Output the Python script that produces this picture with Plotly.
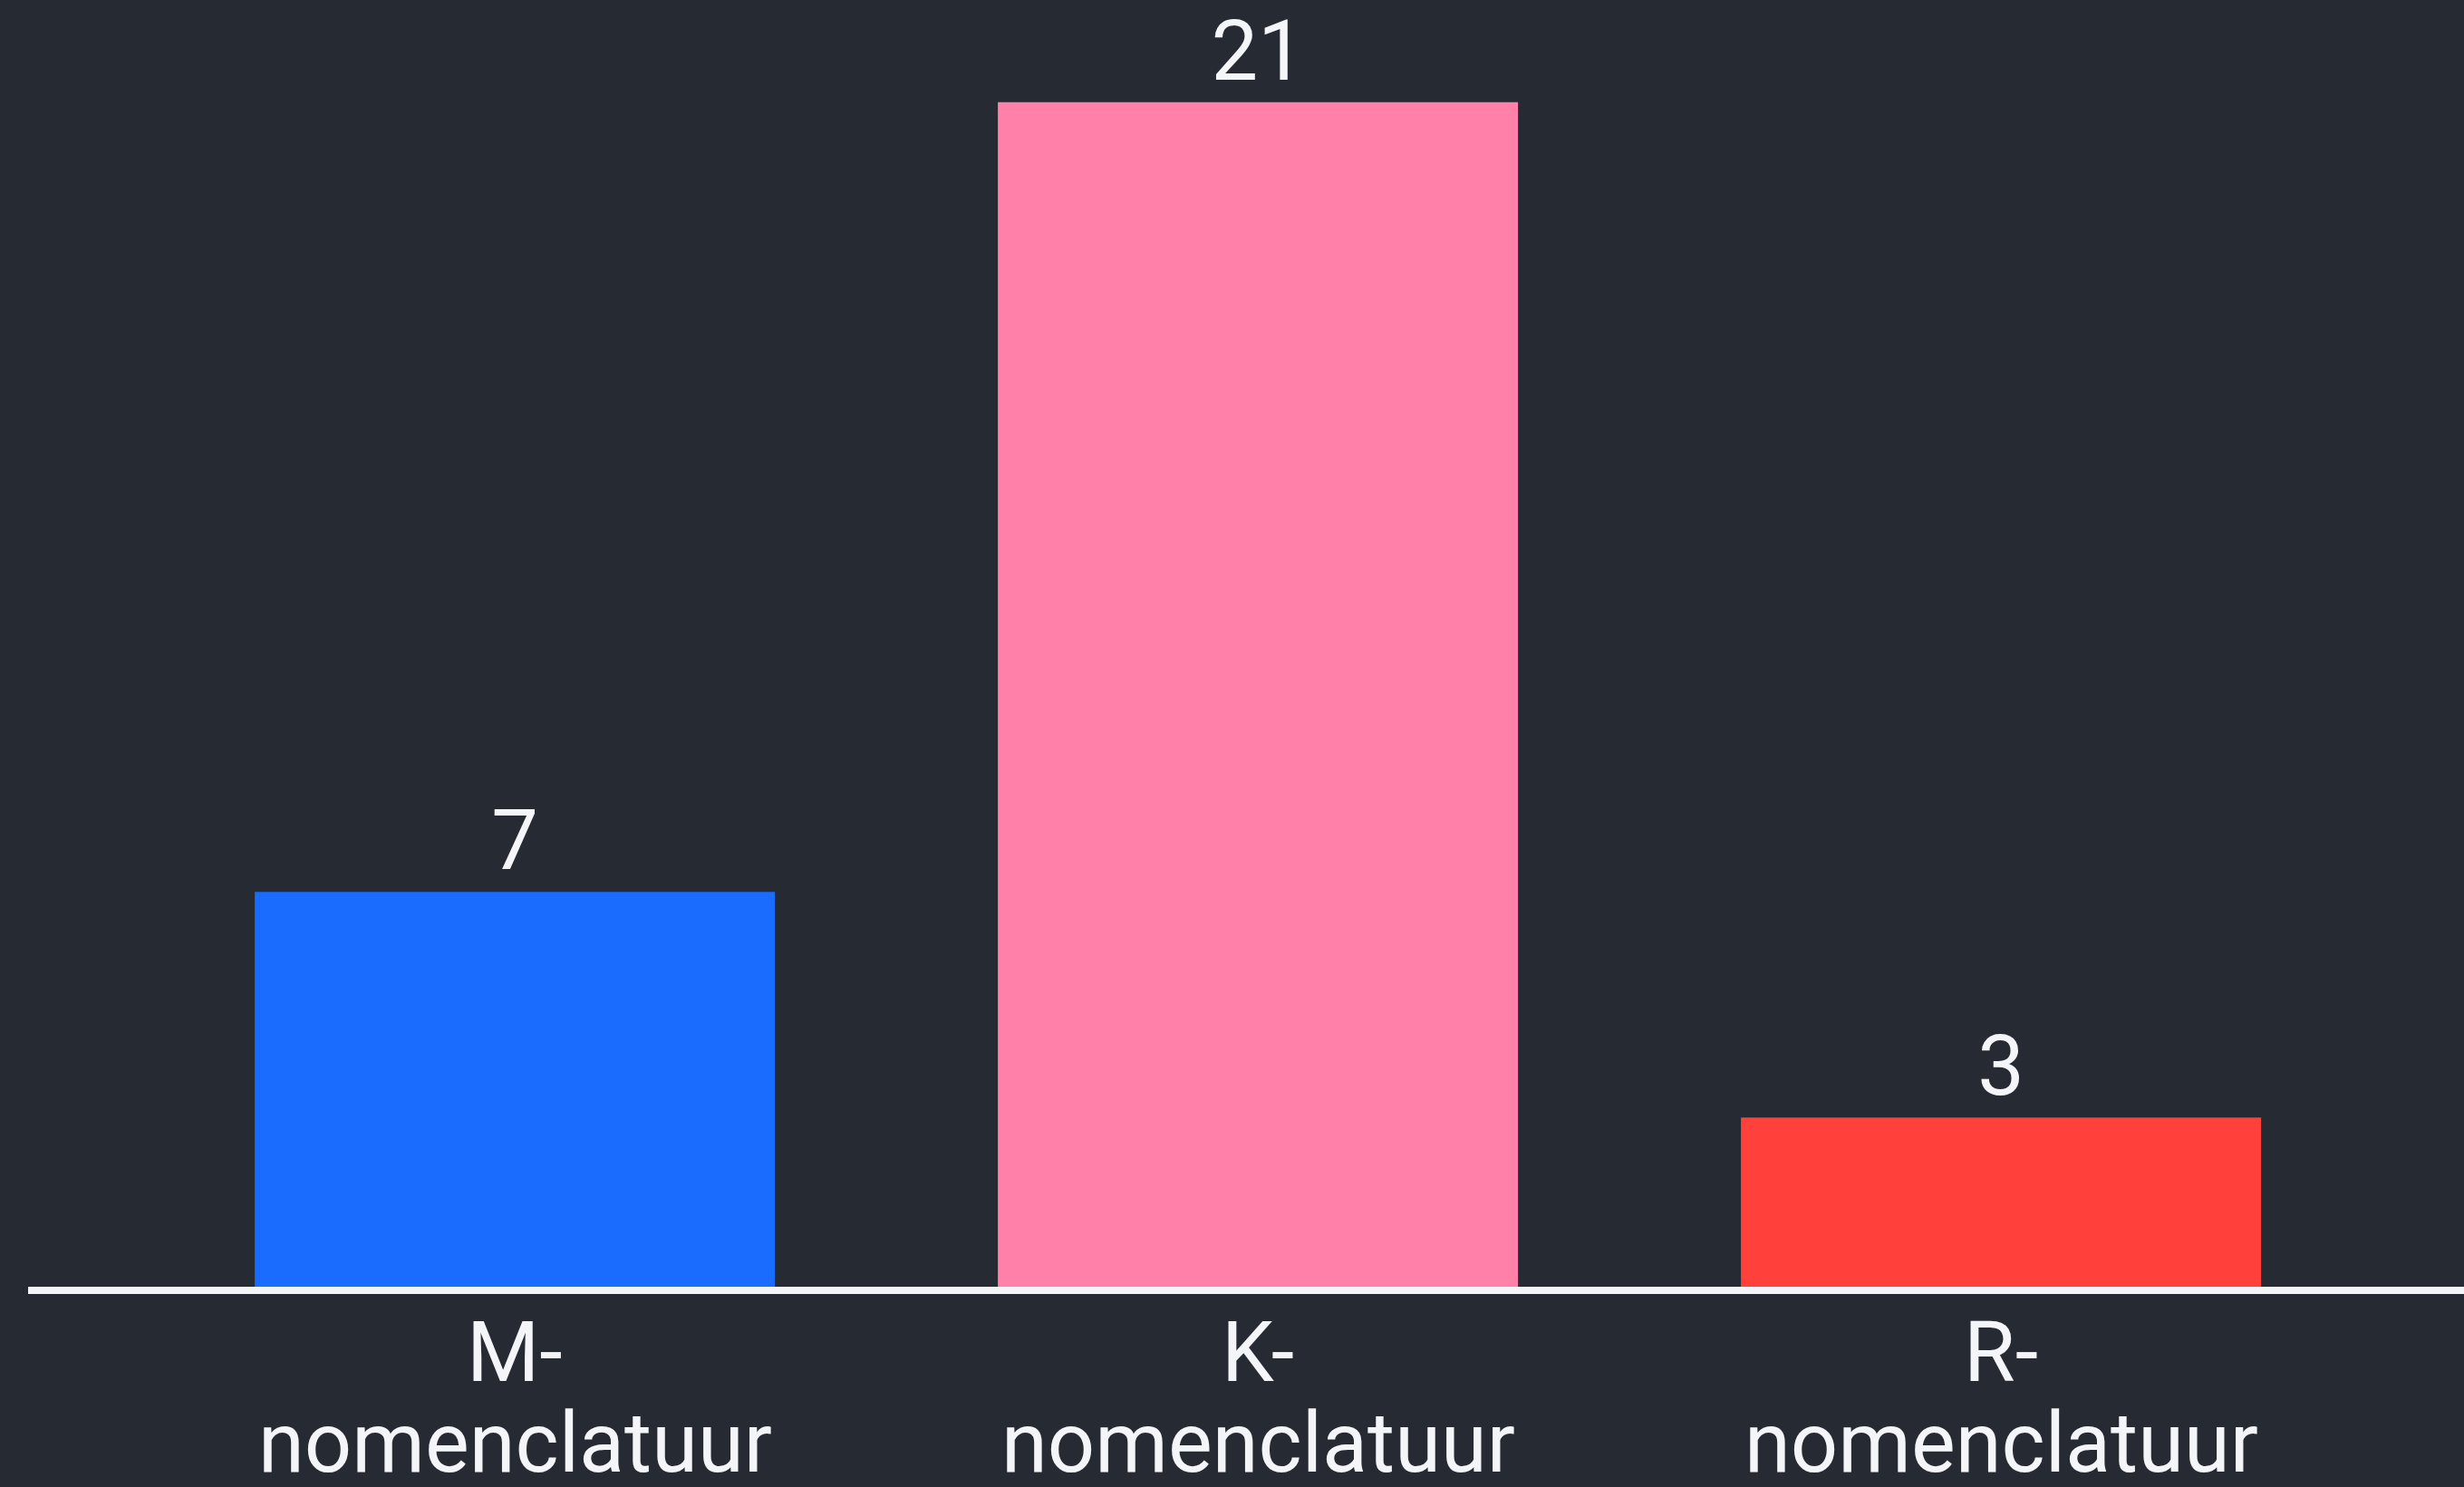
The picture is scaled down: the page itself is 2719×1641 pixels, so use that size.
import plotly.graph_objects as go

prefixes = ["M-", "K-", "R-"]
suffix = "nomenclatuur"
categories = [p + suffix for p in prefixes]
values = [7, 21, 3]
colors = ["#1a6bff", "#ff80a8", "#ff403b"]

BG = "#262a33"
FG = "#f4f5f8"
FONT = "Roboto, Inter, sans-serif"

fig = go.Figure(
    go.Bar(
        x=categories,
        y=values,
        marker=dict(color=colors, line=dict(width=0)),
        width=0.7,
        text=[str(v) for v in values],
        textposition="outside",
        textfont=dict(family=FONT, size=92, color=FG),
        cliponaxis=False,
    )
)

# two-line category labels under the axis
for cat, p in zip(categories, prefixes):
    fig.add_annotation(x=cat, xref="x", y=0, yref="paper", text=p,
                       showarrow=False, yanchor="middle", yshift=-72,
                       font=dict(family=FONT, size=92, color=FG))
    fig.add_annotation(x=cat, xref="x", y=0, yref="paper", text=suffix,
                       showarrow=False, yanchor="middle", yshift=-172,
                       font=dict(family=FONT, size=92, color=FG))

fig.update_layout(
    width=2719,
    height=1641,
    paper_bgcolor=BG,
    plot_bgcolor=BG,
    margin=dict(l=31, r=0, t=0, b=221),
    showlegend=False,
    font=dict(family=FONT, color=FG),
    xaxis=dict(
        range=[-0.655, 2.623],
        showline=True,
        linecolor=FG,
        linewidth=8,
        showgrid=False,
        zeroline=False,
        ticks="",
        showticklabels=False,
        automargin=False,
    ),
    yaxis=dict(
        range=[0, 22.81],
        visible=False,
        showgrid=False,
        zeroline=False,
        automargin=False,
    ),
)

fig.write_html(
    "out.html",
    config={"displayModeBar": False},
    post_script="document.body.style.margin='0';document.body.style.background='%s';" % BG,
)
